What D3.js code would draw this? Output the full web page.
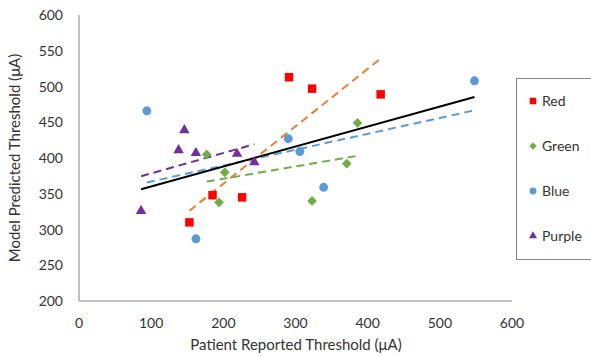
<!DOCTYPE html>
<html>
<head>
<meta charset="utf-8">
<script src="https://cdn.jsdelivr.net/npm/d3@7"></script>
<style>
  body { margin: 0; background: #fff; }
  text { font-family: Lato, "Open Sans", sans-serif; fill: #333; }
</style>
</head>
<body>
<div id="chart"></div>
<script>
const groups = ["Red", "Green", "Blue", "Purple"];

const redX = [153, 185, 226, 291, 323, 418];
const redY = [310, 348, 345, 513, 497, 489];
const greenX = [177, 202, 194, 386, 371, 323];
const greenY = [405, 380, 338, 449, 392, 340];
const blueX = [94, 290, 306, 548, 162, 339];
const blueY = [466, 427, 409, 508, 287, 359];
const purpleX = [146, 138, 162, 219, 243, 86];
const purpleY = [439, 411, 407, 406, 394, 326];

const xTicks = [0, 100, 200, 300, 400, 500, 600];
const yTicks = [200, 250, 300, 350, 400, 450, 500, 550, 600];

const markerColor = {Red: "#ff0000", Green: "#70ad47", Blue: "#5b9bd5", Purple: "#7030a0"};
const trendColor = {Red: "#ed7d31", Green: "#70ad47", Blue: "#5b9bd5", Purple: "#7030a0"};
const markerShape = {Red: d3.symbolSquare, Green: d3.symbolDiamond2, Blue: d3.symbolCircle, Purple: d3.symbolTriangle};
const markerSize = {Red: 72, Green: 60, Blue: 62, Purple: 48};

const series = [
  {name: "Red", xs: redX, ys: redY},
  {name: "Green", xs: greenX, ys: greenY},
  {name: "Blue", xs: blueX, ys: blueY},
  {name: "Purple", xs: purpleX, ys: purpleY}
];

const W = 591, H = 356;
const svg = d3.select('#chart').append('svg').attr('width', W).attr('height', H);

const x = d3.scaleLinear().domain([0, 600]).range([79, 512]);
const y = d3.scaleLinear().domain([200, 600]).range([301, 15]);

// linear least-squares fit over the series' own x range
const fit = (xs, ys) => {
  const mx = d3.mean(xs), my = d3.mean(ys);
  let sxy = 0, sxx = 0;
  xs.forEach((v, i) => { sxy += (v - mx) * (ys[i] - my); sxx += (v - mx) * (v - mx); });
  const b = sxy / sxx, a = my - b * mx;
  const [x0, x1] = d3.extent(xs);
  return [[x0, a + b * x0], [x1, a + b * x1]];
};

// axes
svg.append('line').attr('x1', x(0)).attr('x2', x(0)).attr('y1', y(600)).attr('y2', y(200))
  .attr('stroke', '#868686').attr('stroke-width', 1);
svg.append('line').attr('x1', x(0)).attr('x2', x(600)).attr('y1', y(200)).attr('y2', y(200))
  .attr('stroke', '#868686').attr('stroke-width', 1);

svg.selectAll('.xt').data(xTicks).enter().append('text')
  .attr('x', d => x(d)).attr('y', 328).attr('text-anchor', 'middle')
  .attr('font-size', 14).text(d => d);

svg.selectAll('.yt').data(yTicks).enter().append('text')
  .attr('x', 63).attr('y', d => y(d) + 5).attr('text-anchor', 'end')
  .attr('font-size', 14).text(d => d);

svg.append('text').attr('x', 296).attr('y', 350).attr('text-anchor', 'middle')
  .attr('font-size', 15).text('Patient Reported Threshold (μA)');
svg.append('text').attr('transform', 'translate(20,158) rotate(-90)')
  .attr('text-anchor', 'middle').attr('font-size', 15).text('Model Predicted Threshold (μA)');

const line = d3.line().x(d => x(d[0])).y(d => y(d[1]));

// trend lines per group
series.forEach(s => {
  svg.append('path').attr('d', line(fit(s.xs, s.ys)))
    .attr('fill', 'none').attr('stroke', trendColor[s.name])
    .attr('stroke-width', 2).attr('stroke-dasharray', '8,5');
});

// overall trend
const allX = series.flatMap(s => s.xs), allY = series.flatMap(s => s.ys);
svg.append('path').attr('d', line(fit(allX, allY)))
  .attr('fill', 'none').attr('stroke', '#000').attr('stroke-width', 2);

// markers
series.forEach(s => {
  const sym = d3.symbol().type(markerShape[s.name]).size(markerSize[s.name]);
  svg.append('g').selectAll('path').data(s.xs).enter().append('path')
    .attr('d', sym)
    .attr('transform', (d, i) => `translate(${x(d)},${y(s.ys[i])})`)
    .attr('fill', markerColor[s.name]);
});

// legend
const lg = svg.append('g');
lg.append('rect').attr('x', 516.5).attr('y', 78.5).attr('width', 80).attr('height', 181)
  .attr('fill', '#fff').attr('stroke', '#868686');
groups.forEach((g, i) => {
  const ly = 101 + i * 45;
  lg.append('path').attr('d', d3.symbol().type(markerShape[g]).size(markerSize[g] * 0.6)())
    .attr('transform', `translate(533,${ly})`).attr('fill', markerColor[g]);
  lg.append('text').attr('x', 542).attr('y', ly + 5).attr('font-size', 14).text(g);
});
</script>
</body>
</html>
